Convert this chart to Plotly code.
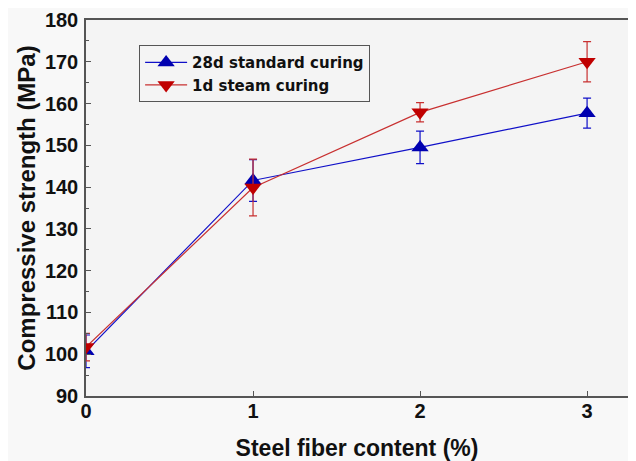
import plotly.graph_objects as go

fiber = [0, 1, 2, 3]
std28 = [100.7, 141.6, 149.5, 157.7]
std28_err = [3.9, 5.0, 3.9, 3.6]
steam1 = [101.7, 139.9, 157.9, 170.0]
steam1_err = [3.3, 6.8, 2.3, 4.8]

fig = go.Figure()
fig.add_trace(go.Scatter(
    x=fiber, y=std28, name="28d standard curing", mode="lines+markers",
    line=dict(color="#1010c8", width=1.2),
    marker=dict(symbol="triangle-up", size=15, color="#0000b0"),
    error_y=dict(type="data", array=std28_err, color="#1010c8", thickness=1.2, width=4),
))
fig.add_trace(go.Scatter(
    x=fiber, y=steam1, name="1d steam curing", mode="lines+markers",
    line=dict(color="#c83030", width=1.2),
    marker=dict(symbol="triangle-down", size=15, color="#c00000"),
    error_y=dict(type="data", array=steam1_err, color="#c83030", thickness=1.2, width=4),
))

font_fam = "Liberation Sans, Arial, sans-serif"
fig.update_layout(
    width=628, height=453,
    margin=dict(l=78, r=8, t=12, b=65),
    paper_bgcolor="#f8f8f8", plot_bgcolor="#f4f4f4",
    font=dict(family=font_fam, color="#111"),
    showlegend=True,
    legend=dict(x=0.098, y=0.933, xanchor="left", yanchor="top",
                bordercolor="#555", borderwidth=1, bgcolor="#f4f4f4",
                font=dict(size=15, family="DejaVu Sans, sans-serif", weight="bold"),
                tracegroupgap=0, itemwidth=42),
)
fig.update_xaxes(
    automargin=False,
    range=[0, 3.245], tickvals=fiber, ticktext=["0", "1", "2", "3"],
    ticks="inside", ticklen=5, tickcolor="#555", showgrid=False, zeroline=False,
    showline=True, linecolor="#555", linewidth=1.5, mirror=True,
    tickfont=dict(size=20, weight="bold"), ticklabelstandoff=-4,
    title=dict(text="Steel fiber content (%)", font=dict(size=23, weight="bold"), standoff=22),
)
fig.update_yaxes(
    automargin=False,
    range=[90, 180], dtick=10, ticks="inside", ticklen=5, tickcolor="#555",
    minor=dict(dtick=5, ticks="inside", ticklen=3, tickcolor="#555"),
    showgrid=False, zeroline=False,
    showline=True, linecolor="#555", linewidth=1.5, mirror=True,
    tickfont=dict(size=20, weight="bold"), ticklabelstandoff=2,
    title=dict(text="Compressive strength (MPa)", font=dict(size=24, weight="bold"), standoff=2),
)
fig.write_html("out.html")
